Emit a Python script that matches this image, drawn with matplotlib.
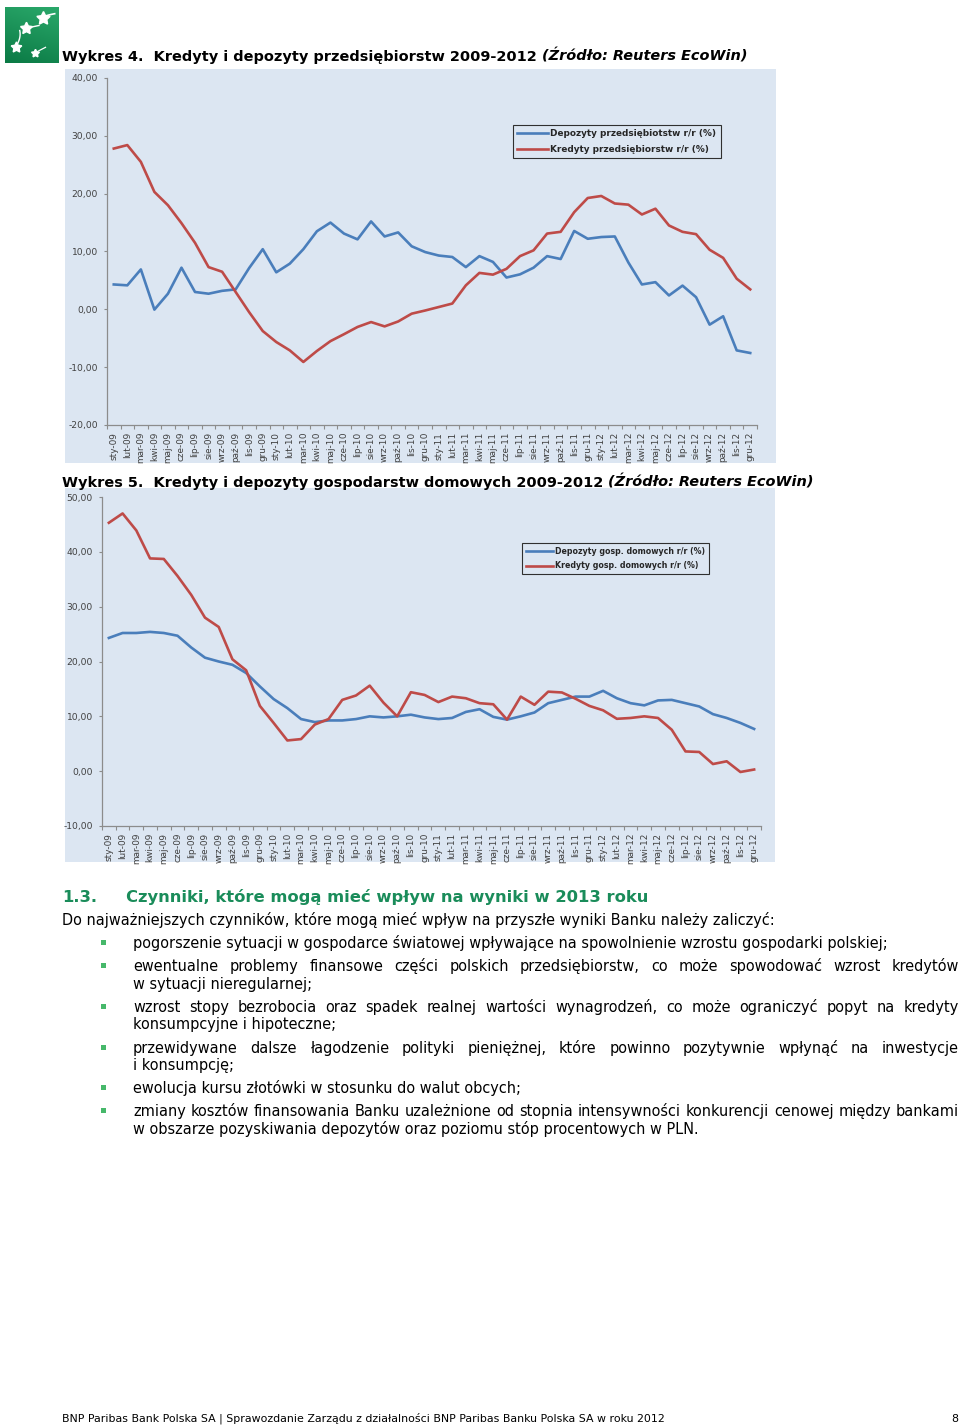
import numpy as np
import matplotlib
matplotlib.use('Agg')
import matplotlib.pyplot as plt
from matplotlib.patches import Rectangle
from matplotlib.lines import Line2D
from matplotlib.ticker import FuncFormatter

# ---------------- data ----------------
months = ['sty', 'lut', 'mar', 'kwi', 'maj', 'cze', 'lip', 'sie', 'wrz', 'paź', 'lis', 'gru']
years = ['09', '10', '11', '12']
categories = [f'{m}-{y}' for y in years for m in months]

dep_firm = [4.3, 4.15, 6.9, -0.05, 2.7, 7.2, 3.0, 2.7, 3.2, 3.45,
            7.15, 10.4, 6.4, 7.9, 10.4, 13.5, 15.0, 13.1, 12.1, 15.2,
            12.6, 13.3, 10.9, 9.9, 9.3, 9.05, 7.3, 9.2, 8.2, 5.5,
            6.05, 7.2, 9.2, 8.7, 13.55, 12.2, 12.5, 12.6, 8.1, 4.3,
            4.7, 2.4, 4.1, 2.1, -2.65, -1.2, -7.1, -7.55]
kred_firm = [27.8, 28.4, 25.5, 20.3, 18.0, 14.9, 11.5, 7.3, 6.5, 3.0,
             -0.5, -3.75, -5.65, -7.1, -9.1, -7.2, -5.5, -4.3, -3.05, -2.2,
             -2.95, -2.1, -0.75, -0.2, 0.4, 1.0, 4.15, 6.3, 6.0, 7.0,
             9.2, 10.2, 13.1, 13.4, 16.8, 19.25, 19.6, 18.3, 18.1, 16.4,
             17.4, 14.5, 13.4, 13.0, 10.3, 8.9, 5.3, 3.45]
dep_hh = [24.3, 25.2, 25.2, 25.4, 25.2, 24.7, 22.55, 20.7, 20.0, 19.4,
          17.9, 15.45, 13.15, 11.5, 9.5, 8.95, 9.25, 9.25, 9.5, 10.0,
          9.8, 10.0, 10.3, 9.8, 9.5, 9.7, 10.8, 11.3, 9.9, 9.4,
          10.0, 10.7, 12.4, 13.0, 13.6, 13.6, 14.65, 13.3, 12.4, 12.0,
          12.9, 13.0, 12.4, 11.8, 10.4, 9.7, 8.8, 7.7]
kred_hh = [45.3, 47.0, 43.9, 38.8, 38.7, 35.6, 32.15, 28.0, 26.3, 20.4,
           18.4, 11.9, 8.8, 5.6, 5.85, 8.5, 9.5, 13.0, 13.8, 15.6,
           12.5, 10.0, 14.4, 13.9, 12.6, 13.6, 13.3, 12.4, 12.2, 9.4,
           13.6, 12.1, 14.5, 14.35, 13.2, 11.9, 11.1, 9.55, 9.7, 10.0,
           9.7, 7.55, 3.6, 3.5, 1.3, 1.8, -0.15, 0.3]

legend1 = ['Depozyty przedsiębiotstw r/r (%)', 'Kredyty przedsiębiorstw r/r (%)']
legend2 = ['Depozyty gosp. domowych r/r (%)', 'Kredyty gosp. domowych r/r (%)']

title1 = ('Wykres 4.  Kredyty i depozyty przedsiębiorstw 2009-2012', '(Źródło: Reuters EcoWin)')
title2 = ('Wykres 5.  Kredyty i depozyty gospodarstw domowych 2009-2012', '(Źródło: Reuters EcoWin)')

heading_num = '1.3.'
heading_txt = 'Czynniki, które mogą mieć wpływ na wyniki w 2013 roku'
intro = 'Do najważniejszych czynników, które mogą mieć wpływ na przyszłe wyniki Banku należy zaliczyć:'
bullets = [
    ['pogorszenie sytuacji w gospodarce światowej wpływające na spowolnienie wzrostu gospodarki polskiej;'],
    ['ewentualne problemy finansowe części polskich przedsiębiorstw, co może spowodować wzrost kredytów',
     'w sytuacji nieregularnej;'],
    ['wzrost stopy bezrobocia oraz spadek realnej wartości wynagrodzeń, co może ograniczyć popyt na kredyty',
     'konsumpcyjne i hipoteczne;'],
    ['przewidywane dalsze łagodzenie polityki pieniężnej, które powinno pozytywnie wpłynąć na inwestycje',
     'i konsumpcję;'],
    ['ewolucja kursu złotówki w stosunku do walut obcych;'],
    ['zmiany kosztów finansowania Banku uzależnione od stopnia intensywności konkurencji cenowej między bankami',
     'w obszarze pozyskiwania depozytów oraz poziomu stóp procentowych w PLN.'],
]
footer = 'BNP Paribas Bank Polska SA | Sprawozdanie Zarządu z działalności BNP Paribas Banku Polska SA w roku 2012'
page_no = '8'

# ---------------- style ----------------
W, H = 960, 1426
BG = '#dce6f2'
BLUE = '#4a7ebb'
RED = '#be4b48'
AXC = '#8c8c8c'
GREEN = '#1a8c5a'

plt.rcParams['font.family'] = ['DejaVu Sans']
fig = plt.figure(figsize=(W / 100, H / 100), dpi=100)
page = fig.add_axes([0, 0, 1, 1])
page.set_xlim(0, W)
page.set_ylim(H, 0)
page.axis('off')
renderer = fig.canvas.get_renderer()


def width_of(txt, size=10, **kw):
    t = page.text(0, 0, txt, fontsize=size, **kw)
    w = t.get_window_extent(renderer).width
    t.remove()
    return w


def fax(l, t, r, b):
    return fig.add_axes([l / W, 1 - b / H, (r - l) / W, (b - t) / H])


# ---------------- logo ----------------
lax = fax(5, 7, 59, 63)
grad = np.linspace(0, 1, 50)
img = np.add.outer(grad, grad[::-1] * 0.3)
lax.imshow(img, cmap=matplotlib.colors.LinearSegmentedColormap.from_list('g', ['#2aa86a', '#0b7a45']),
           extent=[0, 1, 0, 1], aspect='auto')
lax.set_xlim(0, 1)
lax.set_ylim(0, 1)
lax.axis('off')
stars = [(0.70, 0.80, 10), (0.38, 0.62, 9), (0.20, 0.28, 8), (0.55, 0.18, 6)]
for sx, sy, ss in stars:
    lax.plot([sx], [sy], marker=(5, 1, 0), ms=ss, color='white', mec='white')
t = np.linspace(0, 1, 30)
lax.plot(0.70 + 0.22 * t, 0.80 + 0.08 * t ** 0.5, color='white', lw=1.2)
lax.plot(0.38 + 0.25 * t, 0.62 + 0.05 * t, color='white', lw=1.0)
lax.plot(0.20 + 0.08 * np.sin(t * 2), 0.28 + 0.3 * t, color='white', lw=1.0)
lax.plot(0.55 + 0.2 * t, 0.18 + 0.1 * t, color='white', lw=0.9)


# ---------------- titles ----------------
def title(x, y, parts, target):
    b, it = parts
    kw1 = dict(weight='bold')
    kw2 = dict(weight='bold', style='italic')
    w1 = width_of(b, **kw1)
    w2 = width_of(it, **kw2)
    s = 10 * target / (w1 + w2 + 5)
    t1 = page.text(x, y, b, fontsize=s, va='baseline', **kw1)
    bb = t1.get_window_extent(renderer)
    page.text(bb.x1 + 5, y, it, fontsize=s, va='baseline', **kw2)


title(62, 61, title1, 683)
title(62, 487, title2, 750)

# ---------------- panels ----------------
page.add_patch(Rectangle((65, 69), 711, 394, fc=BG, ec='none'))
page.add_patch(Rectangle((65, 488), 710, 374, fc=BG, ec='none'))


def yfmt(v, p):
    return f'{v:.2f}'.replace('.', ',')


def style_chart(ax, ymin, ymax):
    ax.set_facecolor(BG)
    ax.set_xlim(-0.5, len(categories) - 0.5)
    ax.set_ylim(ymin, ymax)
    for s in ['top', 'right']:
        ax.spines[s].set_visible(False)
    for s in ['left', 'bottom']:
        ax.spines[s].set_color(AXC)
        ax.spines[s].set_linewidth(0.9)
    ax.set_yticks(np.arange(ymin, ymax + 1, 10))
    ax.yaxis.set_major_formatter(FuncFormatter(yfmt))
    ax.tick_params(axis='y', length=2.5, width=0.8, color=AXC, labelsize=6.6,
                   labelcolor='#404040', pad=4)
    ax.set_xticks(np.arange(len(categories)))
    ax.set_xticklabels(categories, rotation=90, fontsize=6.4, color='#404040')
    ax.tick_params(axis='x', which='major', length=0, pad=5)
    ax.set_xticks(np.arange(-0.5, len(categories), 1), minor=True)
    ax.tick_params(axis='x', which='minor', length=3, width=0.8, color=AXC)


x = np.arange(len(categories))

ax1 = fax(107, 78, 757, 425)
style_chart(ax1, -20, 40)
ax1.plot(x, dep_firm, color=BLUE, lw=1.9, solid_joinstyle='round')
ax1.plot(x, kred_firm, color=RED, lw=1.9, solid_joinstyle='round')

ax2 = fax(102, 497, 761, 826)
style_chart(ax2, -10, 50)
ax2.plot(x, dep_hh, color=BLUE, lw=1.9, solid_joinstyle='round')
ax2.plot(x, kred_hh, color=RED, lw=1.9, solid_joinstyle='round')


def add_legend(ax, labels, left, top, size, hl):
    handles = [Line2D([], [], color=BLUE, lw=1.9), Line2D([], [], color=RED, lw=1.9)]
    leg = ax.legend(handles, labels, loc='upper left', bbox_to_anchor=(left / W, 1 - top / H),
                    bbox_transform=fig.transFigure, frameon=True, fancybox=False,
                    edgecolor='#303030', facecolor=BG, framealpha=1,
                    prop=dict(weight='bold', size=size), handlelength=hl,
                    borderpad=0.5, labelspacing=0.7, handletextpad=0.3, borderaxespad=0)
    leg.get_frame().set_linewidth(0.8)
    for t in leg.get_texts():
        t.set_color('#262626')


add_legend(ax1, legend1, 513, 125, 6.4, 3.4)
add_legend(ax2, legend2, 522, 543, 5.7, 3.4)

# ---------------- text section ----------------
body_size = 10 * 713 / width_of(intro)
head_size = 10 * 522 / width_of(heading_txt, weight='bold')

page.text(62, 902, heading_num, fontsize=head_size, weight='bold', color=GREEN, va='baseline')
page.text(126, 902, heading_txt, fontsize=head_size, weight='bold', color=GREEN, va='baseline')
page.text(62, 925, intro, fontsize=body_size, va='baseline')


def justify(x0, x1, y, line, size):
    words = line.split(' ')
    ws = [width_of(w, size=size) for w in words]
    gap = (x1 - x0 - sum(ws)) / (len(words) - 1)
    xx = x0
    for w, wd in zip(words, ws):
        page.text(xx, y, w, fontsize=size, va='baseline')
        xx += wd + gap


line_ys = [[943], [966, 984], [1007, 1024], [1048, 1065], [1088], [1111, 1129]]
for lines, ys in zip(bullets, line_ys):
    page.add_patch(Rectangle((101, ys[0] - 3), 5, 5, fc='#46b86a', ec='none'))
    for k, (ln, yy) in enumerate(zip(lines, ys)):
        if len(lines) > 1 and k < len(lines) - 1:
            justify(133, 959, yy + 5, ln, body_size)
        else:
            page.text(133, yy + 5, ln, fontsize=body_size, va='baseline')

foot_size = 10 * 604 / width_of(footer)
page.text(62, 1422, footer, fontsize=foot_size, va='baseline')
page.text(958, 1422, page_no, fontsize=foot_size, va='baseline', ha='right')

fig.savefig('out.png', dpi=100)
